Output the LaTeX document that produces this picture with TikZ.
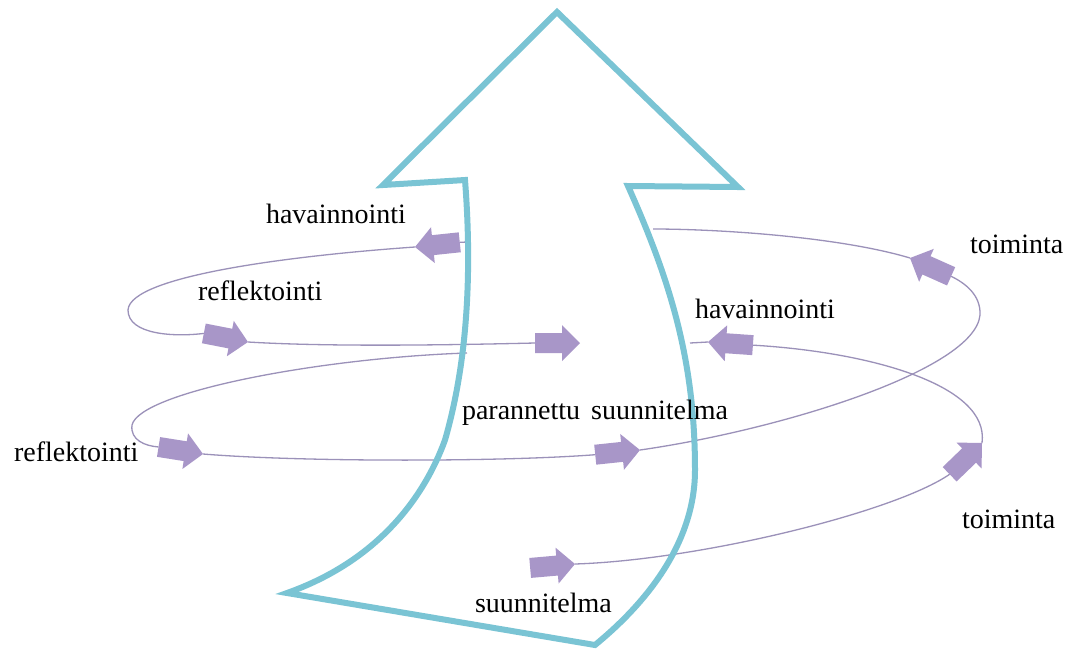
\documentclass[tikz,border=0pt]{standalone}
\usepackage{fontspec}
\setmainfont{Liberation Serif}
\definecolor{BigBlue}{RGB}{122,196,212}
\definecolor{ArrowFill}{RGB}{168,150,200}
\definecolor{LoopLine}{RGB}{155,145,185}
\pgfdeclarelayer{bg}
\pgfsetlayers{bg,main}
\tikzset{
  blockfill/.style={fill=ArrowFill, draw=none},
  loopline/.style={draw=LoopLine, line width=1.3pt},
  bigarrow/.style={draw=BigBlue, line width=6pt, line join=miter, miter limit=6},
  lbl/.style={inner sep=0pt, outer sep=0pt, anchor=base west, font=\fontsize{28}{32}\selectfont},
}
% block arrow: #1 name, #2 tip position, #3 direction angle
\newcommand{\blockarrow}[3]{%
  \begin{scope}[shift={(#2)}, rotate=#3]
    \fill[blockfill] (0,0) -- (-18,18) -- (-18,10) -- (-45,10) -- (-45,-10)
      -- (-18,-10) -- (-18,-18) -- cycle;
    \coordinate (#1tip) at (0,0);
    \coordinate (#1tail) at (-45,0);
  \end{scope}}
\begin{document}
\begin{tikzpicture}[x=1pt,y=-1pt]
\begin{pgfonlayer}{bg}
\fill[white] (0,0) rectangle (1079,649);
\end{pgfonlayer}
\useasboundingbox (0,0) rectangle (1079,649);

% points where the loops meet the shaft
\coordinate (sL1) at (468,242);
\coordinate (sR1) at (653,229);
\coordinate (sR2) at (690,343);
\coordinate (sL2) at (467,353);

% big arrow outline
\draw[bigarrow] (557,12) -- (738,187) -- (628,186)
   .. controls (670,280) and (695,360) .. (695,470)
   .. controls (695,540) and (650,600) .. (595,645)
   -- (287,593)
   .. controls (380,560) and (425,495) .. (445,440)
   .. controls (468,360) and (472,270) .. (465,180)
   -- (383,185) -- cycle;

% purple block arrows (placed by their tips)
\blockarrow{a1}{415,247}{186}
\blockarrow{a2}{248,342}{-11}
\blockarrow{a3}{580,343}{0}
\blockarrow{a4}{910,258}{156}
\blockarrow{a5}{708,342}{176}
\blockarrow{a7}{203,454}{-9}
\blockarrow{a8}{640,450}{6}
\blockarrow{a9}{982,443}{44}
\blockarrow{a10}{575,564}{5}

% loop lines
\begin{pgfonlayer}{bg}
\draw[loopline] (a1tip) .. controls (300,255) and (130,275) .. (128,310)
   .. controls (128,335) and (175,337) .. (a2tail);
\draw[loopline] (a2tip) .. controls (330,347) and (450,345) .. (a3tail);
\draw[loopline] (sL2) .. controls (320,358) and (140,392) .. (132,425)
   .. controls (130,440) and (145,446) .. (a7tail);
\draw[loopline] (a7tip) .. controls (300,462) and (500,462) .. (a8tail);
\draw[loopline] (a8tip) .. controls (780,430) and (975,370) .. (980,315)
   .. controls (981,295) and (965,283) .. (a4tail);
\draw[loopline] (a4tip) .. controls (840,237) and (720,229) .. (sR1);
\draw[loopline] (sR2) -- (a5tip);
\draw[loopline] (a5tail) .. controls (870,352) and (990,385) .. (a9tip);
\draw[loopline] (a9tail) .. controls (895,512) and (700,560) .. (a10tip);
\draw[loopline] (sL1) -- (a1tail);
\end{pgfonlayer}

% labels
\node[lbl] (t1) at (266,223) {havainnointi};
\node[lbl] (t2) at (198,300) {reflektointi};
\node[lbl] (t3) at (970,253) {toiminta};
\node[lbl] (t4) at (695,318) {havainnointi};
\node[lbl] (t5) at (462,419) {parannettu\hspace{4pt} suunnitelma};
\node[lbl] (t6) at (14,461) {reflektointi};
\node[lbl] (t7) at (962,528) {toiminta};
\node[lbl] (t8) at (475,612) {suunnitelma};
\end{tikzpicture}
\end{document}
